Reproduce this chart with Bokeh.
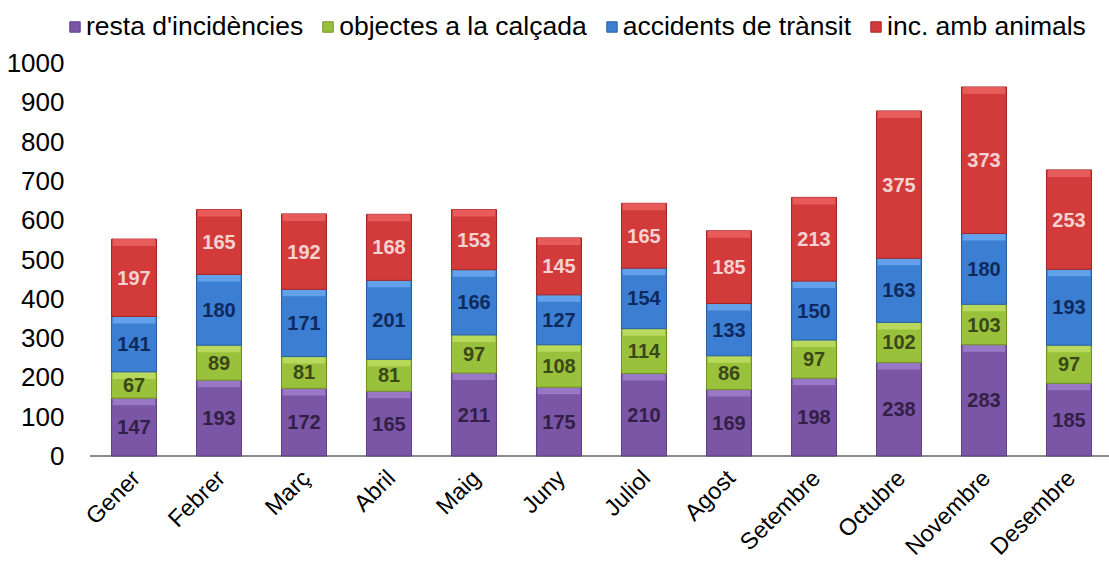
import numpy as np
from bokeh.plotting import figure
from bokeh.models import ColumnDataSource, Legend, LegendItem, Range1d, FixedTicker
from bokeh.core.properties import value
from bokeh.embed import file_html
from bokeh.resources import INLINE

months = ["Gener", "Febrer", "Març", "Abril", "Maig", "Juny", "Juliol", "Agost",
          "Setembre", "Octubre", "Novembre", "Desembre"]
series_names = ["resta d'incidències", "objectes a la calçada", "accidents de trànsit", "inc. amb animals"]
resta = [147, 193, 172, 165, 211, 175, 210, 169, 198, 238, 283, 185]
objectes = [67, 89, 81, 81, 97, 108, 114, 86, 97, 102, 103, 97]
accidents = [141, 180, 171, 201, 166, 127, 154, 133, 150, 163, 180, 193]
animals = [197, 165, 192, 168, 153, 145, 165, 185, 213, 375, 373, 253]
y_ticks = [0, 100, 200, 300, 400, 500, 600, 700, 800, 900, 1000]

colors = ["#7b55a6", "#9ac13c", "#3c7ed2", "#d33b3b"]
top_colors = ["#9f7fcc", "#bddd62", "#6aa8ee", "#ea6262"]
edge_colors = ["#5e3f85", "#6f9020", "#2a5fa5", "#a52525"]
label_colors = ["#321f45", "#3a4816", "#0e2a5c", "#f5d2d2"]

FONT = "Liberation Sans"

W, H = 1109, 560
LEFT = 68
PX_PER_CAT = 85.0
FIRST_CENTER = 133.5 - LEFT
ZERO_Y = 455.5
PX_PER_UNIT = 0.393

x_start = -FIRST_CENTER / PX_PER_CAT
x_end = x_start + (W - LEFT) / PX_PER_CAT
y_end = ZERO_Y / PX_PER_UNIT
y_start = -(H - ZERO_Y) / PX_PER_UNIT

xs = list(range(len(months)))

p = figure(width=W, height=H, x_range=Range1d(x_start, x_end), y_range=Range1d(y_start, y_end),
           output_backend="svg", toolbar_location=None,
           min_border_left=LEFT, min_border_right=0, min_border_top=0, min_border_bottom=0)
p.outline_line_color = None
p.xgrid.grid_line_color = None
p.ygrid.grid_line_color = None
p.xaxis.visible = False
p.background_fill_color = "white"

# baseline (category axis line)
p.segment(x0=[-0.5 - 1.5 / PX_PER_CAT], x1=[x_end], y0=[0], y1=[0],
          line_color="#8c8c8c", line_width=2)

all_series = [resta, objectes, accidents, animals]
bottom = np.zeros(len(months))
legend_items = []
bw = 0.53
bev_units = 7.0 / PX_PER_UNIT
for i, vals in enumerate(all_series):
    v = np.array(vals, dtype=float)
    top = bottom + v
    bev = np.minimum(bev_units, v * 0.3)
    src = ColumnDataSource(dict(x=xs, bottom=bottom.copy(), top=top, mid=(bottom + top) / 2,
                                btop=top - bev, lbl=[str(int(a)) for a in vals]))
    r = p.vbar(x="x", bottom="bottom", top="top", width=bw, source=src,
               fill_color=colors[i], line_color=edge_colors[i], line_width=1)
    p.vbar(x="x", bottom="btop", top="top", width=bw - 0.03, source=src,
           fill_color=top_colors[i], line_color=None, fill_alpha=0.85)
    p.text(x="x", y="mid", text="lbl", source=src, text_align="center", text_baseline="middle",
           text_font=value(FONT), text_font_size="20px", text_font_style="bold",
           text_color=label_colors[i])
    legend_items.append(LegendItem(label=series_names[i], renderers=[r]))
    bottom = top

# month labels, rotated 45 degrees
lab_src = ColumnDataSource(dict(x=[k + 2.0 / PX_PER_CAT for k in xs],
                                y=[-18.0 / PX_PER_UNIT] * len(months), t=months))
p.text(x="x", y="y", text="t", source=lab_src, angle=np.pi / 4, text_align="right",
       text_baseline="middle", text_font=value(FONT), text_font_size="23.5px", text_color="black")

legend = Legend(items=legend_items, orientation="horizontal", location=(0, H - 42),
                label_text_font=FONT, label_text_font_size="26.5px", label_text_color="black",
                glyph_width=13, glyph_height=13, label_standoff=5, spacing=18,
                border_line_color=None, background_fill_alpha=0, padding=2, margin=0)
p.add_layout(legend, "center")

p.yaxis.ticker = FixedTicker(ticks=y_ticks)
p.yaxis.axis_line_color = None
p.yaxis.major_tick_line_color = None
p.yaxis.minor_tick_line_color = None
p.yaxis.major_tick_out = 0
p.yaxis.major_tick_in = 0
p.yaxis.major_label_standoff = 4
p.yaxis.major_label_text_font = FONT
p.yaxis.major_label_text_font_size = "26px"
p.yaxis.major_label_text_color = "black"

open("out.html", "w").write(file_html(p, INLINE))
